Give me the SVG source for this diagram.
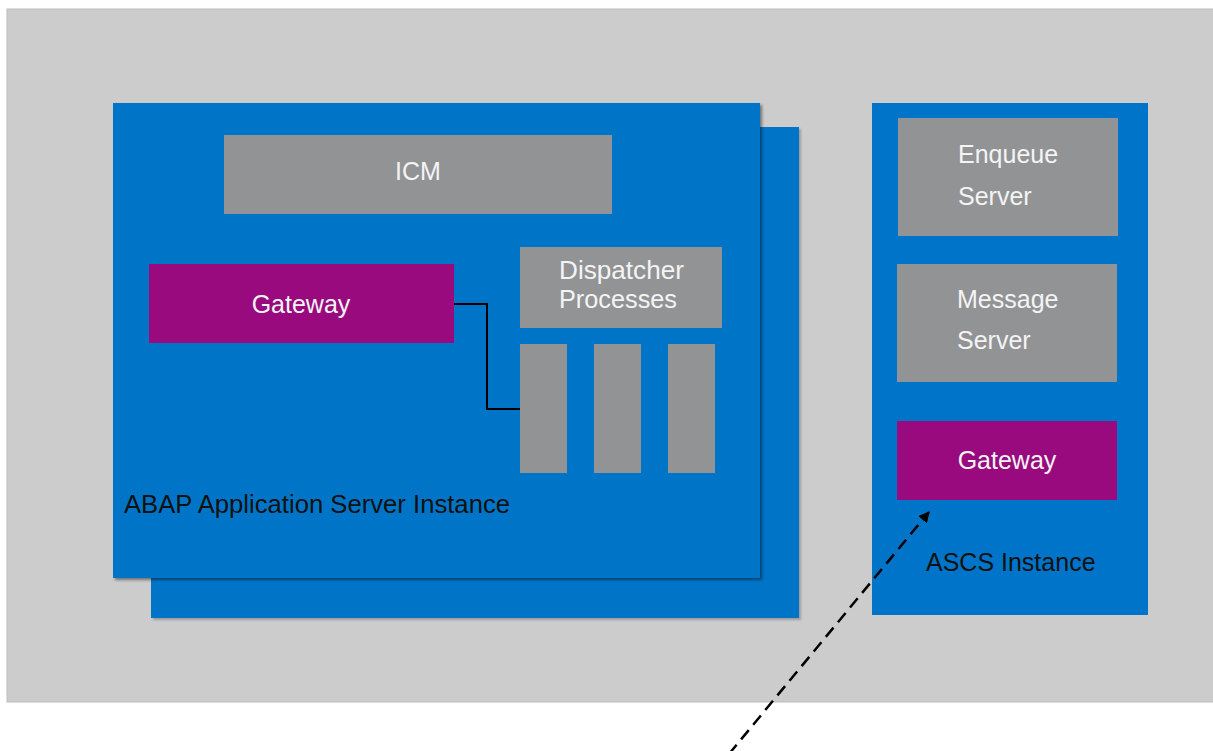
<svg xmlns="http://www.w3.org/2000/svg" width="1213" height="751" viewBox="0 0 1213 751">
  <defs>
    <style>
      .bg { fill: #cccccc; stroke: #bdbdbd; stroke-width: 1; }
      .inst { fill: #0074c8; }
      .proc { fill: #929395; }
      .gw { fill: #990a7e; }
      .lbl { font-family: "Liberation Sans", Arial, sans-serif; font-size: 25px; }
      .in { fill: #f4f4f4; }
      .out { fill: #111111; }
      .link { fill: none; stroke: #000000; stroke-width: 2; }
      .dash { fill: none; stroke: #000000; stroke-width: 2.5; stroke-dasharray: 12 7; }
    </style>
    <filter id="shadow" x="-5%" y="-5%" width="115%" height="115%">
      <feDropShadow dx="2" dy="2" stdDeviation="1.5" flood-color="#000000" flood-opacity="0.45"/>
    </filter>
    <filter id="shadowLight" x="-5%" y="-5%" width="115%" height="115%">
      <feDropShadow dx="2" dy="2" stdDeviation="1" flood-color="#555555" flood-opacity="0.4"/>
    </filter>
    <marker id="arrow" viewBox="0 0 10 10" refX="9" refY="5" markerWidth="4.5" markerHeight="4.5" orient="auto" markerUnits="strokeWidth">
      <path d="M0,0 L10,5 L0,10 z" fill="#000000"/>
    </marker>
  </defs>

  <!-- system landscape area -->
  <rect class="bg" x="7" y="9" width="1210" height="693"/>

  <!-- application server instance (stacked) -->
  <g id="abap-instance">
    <rect class="inst" x="151" y="127" width="648" height="491" filter="url(#shadowLight)"/>
    <rect class="inst" x="113" y="103" width="647" height="475" filter="url(#shadow)"/>
    <text class="lbl out" x="124" y="513" textLength="386" lengthAdjust="spacingAndGlyphs">ABAP Application Server Instance</text>
  </g>

  <g id="icm">
    <rect class="proc" x="224" y="135" width="388" height="79"/>
    <text class="lbl in" x="418" y="180" text-anchor="middle">ICM</text>
  </g>

  <g id="gateway-app">
    <rect class="gw" x="149" y="264" width="305" height="79"/>
    <text class="lbl in" x="301" y="313" text-anchor="middle">Gateway</text>
  </g>

  <g id="dispatcher">
    <rect class="proc" x="520" y="247" width="202" height="81"/>
    <text class="lbl in" x="559" y="279" textLength="125" lengthAdjust="spacingAndGlyphs">Dispatcher</text>
    <text class="lbl in" x="559" y="308" textLength="118" lengthAdjust="spacingAndGlyphs">Processes</text>
  </g>

  <g id="work-process-1">
    <rect class="proc" x="520" y="344" width="47" height="129"/>
  </g>
  <g id="work-process-2">
    <rect class="proc" x="594" y="344" width="47" height="129"/>
  </g>
  <g id="work-process-3">
    <rect class="proc" x="668" y="344" width="47" height="129"/>
  </g>

  <!-- central services instance -->
  <g id="ascs-instance">
    <rect class="inst" x="872" y="103" width="276" height="512"/>
    <text class="lbl out" x="926" y="571">ASCS Instance</text>
  </g>

  <g id="enqueue-server">
    <rect class="proc" x="898" y="118" width="220" height="118"/>
    <text class="lbl in" x="958" y="163">Enqueue</text>
    <text class="lbl in" x="958" y="205">Server</text>
  </g>

  <g id="message-server">
    <rect class="proc" x="897" y="264" width="220" height="118"/>
    <text class="lbl in" x="957" y="308">Message</text>
    <text class="lbl in" x="957" y="349">Server</text>
  </g>

  <g id="gateway-ascs">
    <rect class="gw" x="897" y="421" width="220" height="79"/>
    <text class="lbl in" x="1007" y="469" text-anchor="middle">Gateway</text>
  </g>

  <!-- connectors -->
  <g id="connectors">
    <polyline class="link" points="454,304 487,304 487,409 520,409"/>
    <line class="dash" x1="729" y1="754" x2="929" y2="512" marker-end="url(#arrow)"/>
  </g>
</svg>
